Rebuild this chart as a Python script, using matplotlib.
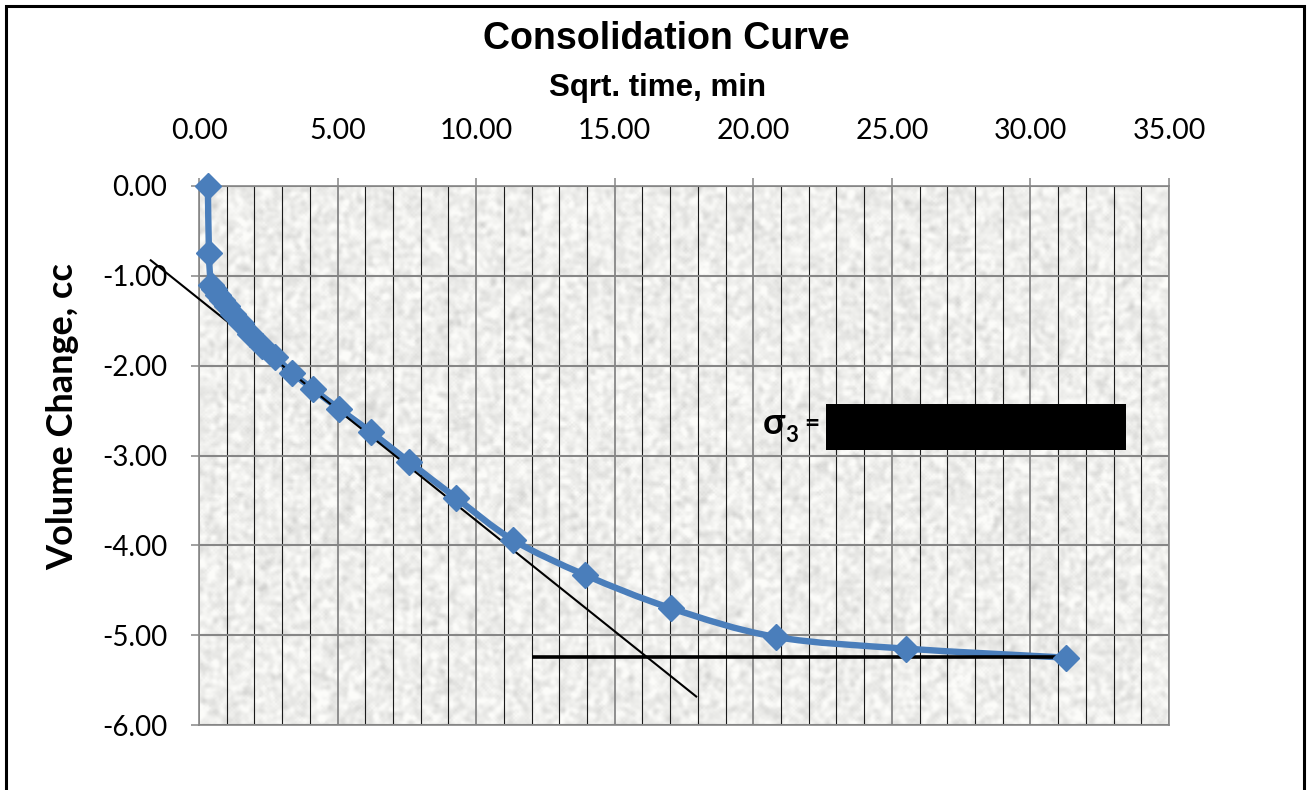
import numpy as np
import matplotlib
matplotlib.use("Agg")
import matplotlib.pyplot as plt
from matplotlib.path import Path
from matplotlib.patches import PathPatch, Rectangle
from matplotlib.ticker import MultipleLocator, FormatStrFormatter

# Consolidation readings: square root of elapsed time (min) vs volume change (cc)
sqrt_time = [0.32, 0.36, 0.43, 0.55, 0.68, 0.82, 1.00, 1.22, 1.50, 1.84,
             2.27, 2.74, 3.36, 4.11, 5.05, 6.21, 7.58, 9.27, 11.33, 13.93,
             17.03, 20.82, 25.51, 31.29]
volume_change = [0.00, -0.75, -1.10, -1.15, -1.21, -1.27, -1.34, -1.43, -1.53, -1.65,
                 -1.78, -1.90, -2.08, -2.26, -2.48, -2.74, -3.07, -3.47, -3.94, -4.33,
                 -4.70, -5.02, -5.15, -5.25]

# Construction lines (initial tangent and end-of-consolidation level)
tangent_x = [-1.77, 17.97]
tangent_y = [-0.82, -5.69]
final_x = [12.02, 31.20]
final_y = [-5.24, -5.24]

x_ticks = [0, 5, 10, 15, 20, 25, 30, 35]
y_ticks = [0, -1, -2, -3, -4, -5, -6]

title = "Consolidation Curve"
x_title = "Sqrt. time, min"
y_title = "Volume Change, cc"

W, H = 1310, 790
fig = plt.figure(figsize=(W / 100, H / 100), dpi=100)
fig.patch.set_facecolor("white")
ax = fig.add_axes([199 / W, 1 - 725 / H, (1169 - 199) / W, (725 - 186) / H])

ax.set_xlim(0, 35)
ax.set_ylim(-6, 0)

# granite-style plot-area fill
rng = np.random.default_rng(7)
noise = rng.normal(size=(270, 485))
for _ in range(2):
    noise = (noise + np.roll(noise, 1, 0) + np.roll(noise, -1, 0)
             + np.roll(noise, 1, 1) + np.roll(noise, -1, 1)) / 5.0
noise = noise / noise.std()
gray = np.clip(0.935 + 0.03 * noise, 0.80, 0.99)
tex = np.dstack([gray, gray, gray * 0.99])
ax.imshow(tex, extent=[0, 35, -6, 0], aspect="auto", zorder=0,
          interpolation="bilinear")

grid_grey = "#868686"
ax.xaxis.set_minor_locator(MultipleLocator(1))
ax.set_xticks(x_ticks)
ax.set_yticks(y_ticks)
ax.xaxis.set_major_formatter(FormatStrFormatter("%.2f"))
ax.yaxis.set_major_formatter(FormatStrFormatter("%.2f"))
ax.grid(which="minor", axis="x", color="#1a1a1a", linewidth=0.8, zorder=1)
ax.grid(which="major", axis="x", color=grid_grey, linewidth=1.3, zorder=1)
ax.grid(which="major", axis="y", color=grid_grey, linewidth=1.5, zorder=1)

ax.xaxis.tick_top()
ax.xaxis.set_label_position("top")
ax.tick_params(axis="x", which="major", direction="out", length=6, width=1.1,
               color=grid_grey, pad=24, labelsize=20.5, labelcolor="black")
ax.tick_params(axis="y", which="major", direction="out", length=6, width=1.1,
               color=grid_grey, pad=17, labelsize=20, labelcolor="black")
ax.tick_params(which="minor", length=0)
for lab in ax.get_xticklabels() + ax.get_yticklabels():
    lab.set_fontfamily("Lato")
for sp in ax.spines.values():
    sp.set_color(grid_grey)
    sp.set_linewidth(1.2)

# smoothed data line (cubic Bezier segments through the readings)
pts = np.column_stack([sqrt_time, volume_change])
verts = [tuple(pts[0])]
codes = [Path.MOVETO]
n = len(pts)
for i in range(n - 1):
    p0 = pts[i - 1] if i > 0 else pts[i]
    p1 = pts[i]
    p2 = pts[i + 1]
    p3 = pts[i + 2] if i + 2 < n else pts[i + 1]
    c1 = p1 + (p2 - p0) / 6.0
    c2 = p2 - (p3 - p1) / 6.0
    verts += [tuple(c1), tuple(c2), tuple(p2)]
    codes += [Path.CURVE4] * 3
blue = "#4a7ebb"
ax.add_patch(PathPatch(Path(verts, codes), facecolor="none", edgecolor=blue,
                       linewidth=4.6, capstyle="round", joinstyle="round",
                       zorder=3))

ax.plot(tangent_x, tangent_y, color="black", linewidth=1.5, zorder=4,
        clip_on=False, solid_capstyle="butt")
ax.plot(final_x, final_y, color="black", linewidth=2.6, zorder=4,
        clip_on=False, solid_capstyle="butt")

ax.plot(sqrt_time, volume_change, linestyle="none", marker="D",
        markersize=13, color=blue, zorder=5, clip_on=False)

# titles
fig.text(666 / W, 1 - 39 / H, title, ha="center", va="center",
         fontsize=27, fontweight="bold", family="Liberation Sans")
fig.text(658 / W, 1 - 88 / H, x_title, ha="center", va="center",
         fontsize=22.5, fontweight="bold", family="Liberation Sans")
fig.text(63 / W, 1 - 417 / H, y_title, ha="center", va="center",
         rotation=90, fontsize=26, fontweight="bold", family="Lato")

# stress annotation
fig.text(763 / W, 1 - 424 / H, "σ", ha="left", va="center",
         fontsize=26, fontweight="bold", family="Lato")
fig.text(785 / W, 1 - 435 / H, "3", ha="left", va="center",
         fontsize=16, fontweight="bold", family="Lato")
fig.text(804 / W, 1 - 423 / H, "=", ha="left", va="center",
         fontsize=19, fontweight="bold", family="Lato")
fig.patches.append(Rectangle((826 / W, 1 - 450 / H), 300 / W, 46 / H,
                             transform=fig.transFigure, facecolor="black",
                             edgecolor="none", zorder=6))

# outer chart frame
fig.patches.append(Rectangle((6 / W, -0.05), 1298 / W, 1.05 - 6 / H,
                             transform=fig.transFigure, facecolor="none",
                             edgecolor="black", linewidth=2.2, zorder=10))

fig.savefig("out.png", dpi=100, facecolor="white")
